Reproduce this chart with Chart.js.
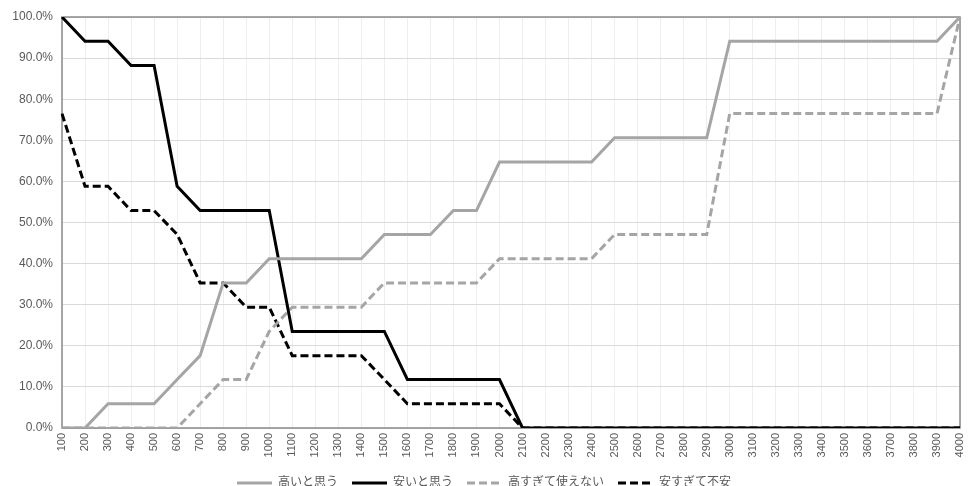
<!DOCTYPE html>
<html>
<head>
<meta charset="utf-8">
<script src="https://cdn.jsdelivr.net/npm/chart.js@4"></script>
<style>
  html, body { margin: 0; padding: 0; background: #fff; }
  #wrap { width: 968px; height: 486px; }
</style>
</head>
<body>
<div id="wrap"><canvas id="PsmChart"></canvas></div>
<script>
const prices = [100, 200, 300, 400, 500, 600, 700, 800, 900, 1000,
    1100, 1200, 1300, 1400, 1500, 1600, 1700, 1800, 1900, 2000,
    2100, 2200, 2300, 2400, 2500, 2600, 2700, 2800, 2900, 3000,
    3100, 3200, 3300, 3400, 3500, 3600, 3700, 3800, 3900, 4000];

// 高いと思う
const expensive = [0, 0, 5.9, 5.9, 5.9, 11.8, 17.6, 35.3, 35.3, 41.2,
    41.2, 41.2, 41.2, 41.2, 47.1, 47.1, 47.1, 52.9, 52.9, 64.7,
    64.7, 64.7, 64.7, 64.7, 70.6, 70.6, 70.6, 70.6, 70.6, 94.1,
    94.1, 94.1, 94.1, 94.1, 94.1, 94.1, 94.1, 94.1, 94.1, 100];

// 安いと思う
const cheap = [100, 94.1, 94.1, 88.2, 88.2, 58.8, 52.9, 52.9, 52.9, 52.9,
    23.5, 23.5, 23.5, 23.5, 23.5, 11.8, 11.8, 11.8, 11.8, 11.8,
    0, 0, 0, 0, 0, 0, 0, 0, 0, 0,
    0, 0, 0, 0, 0, 0, 0, 0, 0, 0];

// 高すぎて使えない
const tooExpensive = [0, 0, 0, 0, 0, 0, 5.9, 11.8, 11.8, 23.5,
    29.4, 29.4, 29.4, 29.4, 35.3, 35.3, 35.3, 35.3, 35.3, 41.2,
    41.2, 41.2, 41.2, 41.2, 47.1, 47.1, 47.1, 47.1, 47.1, 76.5,
    76.5, 76.5, 76.5, 76.5, 76.5, 76.5, 76.5, 76.5, 76.5, 100];

// 安すぎて不安
const tooCheap = [76.5, 58.8, 58.8, 52.9, 52.9, 47.1, 35.3, 35.3, 29.4, 29.4,
    17.6, 17.6, 17.6, 17.6, 11.8, 5.9, 5.9, 5.9, 5.9, 5.9,
    0, 0, 0, 0, 0, 0, 0, 0, 0, 0,
    0, 0, 0, 0, 0, 0, 0, 0, 0, 0];

const yTicks = [0, 10, 20, 30, 40, 50, 60, 70, 80, 90, 100];

const GRAY = "#A5A5A5";
const BLACK = "#000000";
const FONT = "'Liberation Sans', 'Noto Sans CJK JP', sans-serif";

Chart.defaults.font.family = FONT;
Chart.defaults.color = "#595959";

// frame round the plot area
const plotFrame = {
    id: "plotFrame",
    beforeDatasetsDraw(chart) {
        const { ctx, chartArea: a } = chart;
        ctx.save();
        ctx.strokeStyle = "#8a8a8a";
        ctx.lineWidth = 1.5;
        ctx.strokeRect(a.left, a.top, a.right - a.left, a.bottom - a.top);
        ctx.restore();
    }
};

function lineSet(label, data, color, dashed) {
    return {
        label: label,
        data: data,
        borderColor: color,
        backgroundColor: color,
        borderWidth: 3,
        borderDash: dashed ? [8, 4] : [],
        pointRadius: 0,
        pointHoverRadius: 0,
        tension: 0,
        fill: false
    };
}

new Chart(document.getElementById("PsmChart"), {
    type: "line",
    data: {
        labels: prices,
        datasets: [
            lineSet("高いと思う", expensive, GRAY, false),
            lineSet("安いと思う", cheap, BLACK, false),
            lineSet("高すぎて使えない", tooExpensive, GRAY, true),
            lineSet("安すぎて不安", tooCheap, BLACK, true)
        ]
    },
    options: {
        responsive: true,
        maintainAspectRatio: false,
        animation: false,
        layout: { padding: { top: 17, right: 0, left: 0, bottom: -13 } },
        plugins: {
            tooltip: { enabled: false },
            legend: {
                position: "bottom",
                labels: {
                    usePointStyle: true,
                    pointStyle: "line",
                    pointStyleWidth: 35,
                    padding: 14,
                    color: "#595959",
                    font: { size: 12 },
                    generateLabels(chart) {
                        const items = Chart.defaults.plugins.legend.labels.generateLabels(chart);
                        items.forEach(item => {
                            const ds = chart.data.datasets[item.datasetIndex];
                            item.lineDash = ds.borderDash;
                            item.lineWidth = 3;
                            item.strokeStyle = ds.borderColor;
                        });
                        return items;
                    }
                }
            }
        },
        scales: {
            x: {
                offset: false,
                grid: { color: "#eeeeee", drawTicks: false },
                border: { display: false },
                ticks: {
                    autoSkip: false,
                    maxRotation: 90,
                    minRotation: 90,
                    padding: 5,
                    color: "#595959",
                    font: { size: 11 }
                },
                afterFit(scale) {
                    scale.height = 35;
                    scale.paddingLeft = 0;
                    scale.paddingRight = 8;
                }
            },
            y: {
                min: 0,
                max: 100,
                afterBuildTicks(scale) {
                    scale.ticks = yTicks.map(v => ({ value: v }));
                },
                grid: { color: "#d9d9d9", drawTicks: false },
                border: { display: false },
                ticks: {
                    padding: 9,
                    color: "#595959",
                    font: { size: 12 },
                    callback: v => v.toFixed(1) + "%"
                },
                afterFit(scale) {
                    scale.width = 62;
                    scale.paddingTop = 0;
                    scale.paddingBottom = 0;
                }
            }
        }
    },
    plugins: [plotFrame]
});
</script>
</body>
</html>
